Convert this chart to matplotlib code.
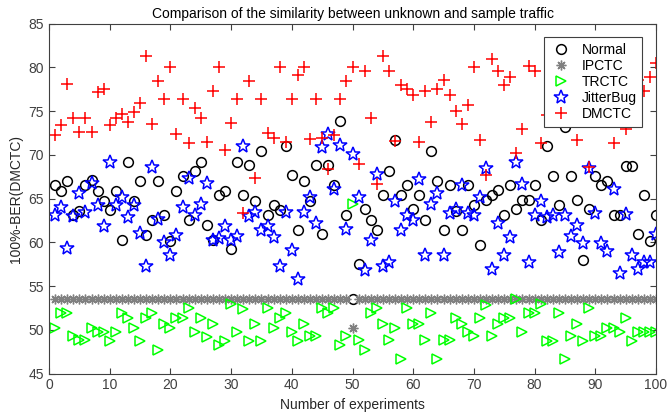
import numpy as np
import matplotlib
matplotlib.use('Agg')
from matplotlib import pyplot as plt

plt.rcParams['font.family'] = ['Liberation Sans', 'DejaVu Sans']

# experiment index
experiments = list(range(1, 101))

normal = [66.5, 65.9, 67.0, 63.1, 63.6, 66.5, 67.1, 65.9, 64.75, 63.7,
          65.9, 60.3, 69.2, 64.75, 67.0, 60.8, 62.5, 67.0, 63.1, 60.2,
          65.9, 67.6, 62.5, 68.1, 69.2, 62.0, 60.3, 65.4, 65.9, 59.2,
          69.2, 65.4, 68.8, 64.75, 70.4, 63.1, 64.3, 63.7, 71.0, 67.7,
          61.4, 67.0, 64.75, 68.8, 60.9, 68.8, 66.5, 73.9, 63.1, 53.5,
          57.5, 63.8, 62.5, 61.4, 65.4, 68.2, 71.7, 65.4, 66.5, 63.8,
          65.4, 62.5, 70.4, 67.0, 61.4, 66.5, 63.6, 61.4, 66.5, 64.3,
          59.7, 64.8, 65.4, 66.0, 63.1, 66.5, 63.8, 64.8, 64.8, 66.5,
          62.5, 71.0, 67.6, 64.3, 73.2, 67.6, 64.8, 58.0, 63.8, 67.6,
          66.5, 67.0, 63.1, 63.1, 68.75, 68.75, 60.9, 65.4, 60.2, 63.1]

ipctc = [53.5] * 49 + [50.2] + [53.5] * 50

trctc = [50.2, 51.9, 51.9, 49.3, 48.8, 48.8, 50.2, 49.8, 49.7, 48.7,
         49.7, 51.9, 51.3, 50.2, 48.7, 51.3, 51.9, 47.7, 50.7, 50.2,
         51.3, 51.3, 52.5, 49.7, 51.3, 49.2, 50.7, 48.3, 48.75, 52.9,
         49.7, 52.4, 48.75, 50.7, 48.75, 52.5, 50.2, 51.4, 51.95, 49.7,
         48.75, 50.7, 49.3, 49.3, 52.5, 51.9, 52.5, 48.3, 49.3, 64.4,
         48.8, 47.7, 51.9, 52.5, 50.7, 48.8, 50.2, 46.7, 52.5, 50.7,
         50.7, 48.8, 51.9, 46.7, 48.8, 48.8, 51.4, 50.7, 49.8, 49.3,
         51.4, 52.8, 49.3, 50.7, 51.4, 51.4, 53.5, 49.7, 51.9, 51.9,
         52.9, 48.75, 48.75, 51.9, 46.7, 49.3, 50.7, 48.75, 52.5, 49.3,
         49.3, 50.2, 50.2, 49.7, 51.4, 48.75, 49.8, 49.7, 49.7, 49.7]

jitterbug = [63.1, 64.0, 59.4, 63.0, 65.6, 63.5, 66.8, 64.3, 61.9, 69.2,
             64.3, 65.2, 62.85, 64.3, 61.1, 57.3, 68.6, 62.7, 60.0, 58.5,
             60.8, 64.0, 67.3, 63.1, 64.4, 66.8, 60.3, 60.5, 61.85, 60.3,
             60.7, 71.0, 63.0, 63.5, 61.4, 61.9, 60.6, 57.3, 63.5, 59.1,
             55.8, 63.5, 65.2, 62.2, 70.85, 72.4, 66.05, 71.1, 61.5, 70.05,
             65.2, 56.8, 60.3, 67.8, 57.3, 57.7, 64.7, 61.4, 63.1, 62.6,
             67.2, 58.5, 64.4, 65.6, 58.5, 63.4, 63.8, 66.6, 63.4, 63.1,
             65.2, 68.5, 56.9, 62.2, 58.5, 60.6, 69.2, 66.7, 57.7, 63.1,
             64.7, 62.85, 63.1, 58.9, 63.1, 60.7, 62.0, 59.9, 68.5, 63.4,
             59.9, 59.0, 66.1, 56.5, 63.25, 58.5, 56.9, 57.7, 57.7, 60.9]

dmctc = [72.3, 73.4, 78.05, 74.2, 72.6, 74.2, 72.6, 77.2, 77.5, 73.4,
         74.2, 74.65, 73.8, 74.9, 75.9, 81.3, 73.5, 78.4, 76.4, 80.0,
         72.4, 76.4, 71.3, 75.3, 74.2, 71.5, 77.3, 80.0, 70.6, 73.6,
         76.4, 63.4, 78.4, 67.4, 76.4, 72.45, 71.95, 80.0, 71.5, 76.4,
         79.1, 80.0, 71.8, 76.4, 71.9, 68.4, 72.3, 76.4, 78.4, 80.0,
         69.0, 79.6, 74.2, 66.7, 81.3, 79.6, 71.6, 78.0, 77.5, 76.8,
         71.5, 77.3, 73.8, 77.5, 78.5, 76.8, 75.0, 73.5, 75.7, 80.0,
         71.7, 67.7, 80.9, 79.6, 78.0, 78.9, 70.2, 73.0, 80.1, 79.6,
         71.4, 74.6, 77.0, 79.5, 76.0, 80.5, 71.7, 78.0, 68.6, 75.5,
         79.0, 77.5, 71.3, 80.0, 73.0, 76.5, 78.5, 77.3, 78.9, 80.45]

fig = plt.figure(figsize=(6.67, 4.17), dpi=100)
ax = fig.add_axes([0.0735, 0.1043, 0.91, 0.8393])

ax.plot(experiments, normal, 'o', color='k', mfc='none', ms=7, mew=1.1, label='Normal')
ax.plot(experiments, ipctc, ls='none', marker=(8, 2, 0), color='#808080', ms=7, mew=1.0, label='IPCTC')
ax.plot(experiments, trctc, '>', color='#00ff00', mfc='none', ms=7.5, mew=1.1, label='TRCTC')
ax.plot(experiments, jitterbug, '*', color='#0000ff', mfc='none', ms=10, mew=1.1, label='JitterBug')
ax.plot(experiments, dmctc, '+', color='#ff0000', ms=8.5, mew=1.1, label='DMCTC')

ax.set_xlim(0, 100)
ax.set_ylim(45, 85)
ax.set_xticks(np.arange(0, 101, 10))
ax.set_yticks(np.arange(45, 86, 5))
ax.tick_params(direction='in', top=True, right=True, length=4, labelsize=10,
               colors='#404040', width=0.8)
for sp in ax.spines.values():
    sp.set_color('#404040')
    sp.set_linewidth(0.8)

ax.set_title('Comparison of the similarity between unknown and sample traffic', fontsize=10, pad=4)
ax.set_xlabel('Number of experiments', fontsize=10, color='#262626')
ax.set_ylabel('100%-BER(DMCTC)', fontsize=10, color='#262626')

leg = ax.legend(loc='upper right', fontsize=10, fancybox=False, framealpha=1,
                edgecolor='#404040', borderaxespad=1.0, labelspacing=0.15,
                handlelength=1.6, handletextpad=0.7, borderpad=0.4)
leg.get_frame().set_linewidth(0.8)

fig.savefig('out.png', dpi=100)
